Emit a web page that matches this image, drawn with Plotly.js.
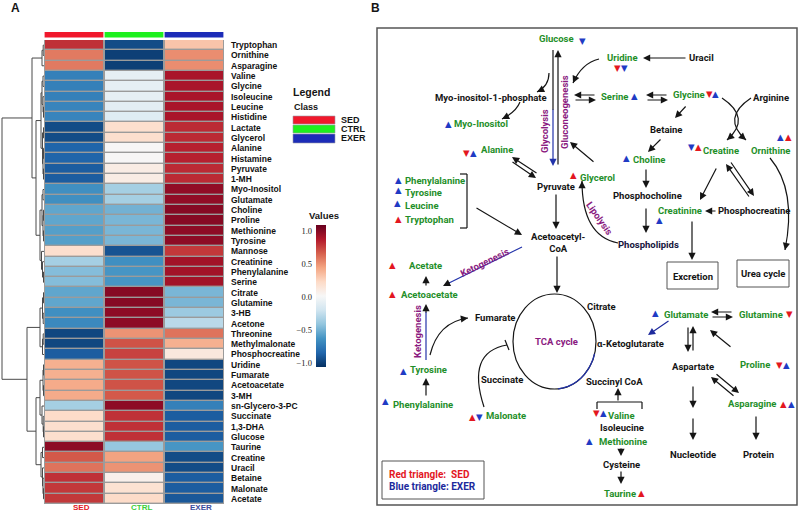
<!DOCTYPE html>
<html><head><meta charset="utf-8">
<script src="https://cdn.plot.ly/plotly-3.0.1.min.js"></script>
<style>html,body{margin:0;padding:0;background:#fff}</style>
</head><body><div id="chart" style="width:800px;height:514px"></div>
<script>
// ---------------- DATA ----------------
const metabolites = ['Tryptophan','Ornithine','Asparagine','Valine','Glycine','Isoleucine','Leucine','Histidine','Lactate','Glycerol','Alanine','Histamine','Pyruvate','1-MH','Myo-Inositol','Glutamate','Choline','Proline','Methionine','Tyrosine','Mannose','Creatinine','Phenylalanine','Serine','Citrate','Glutamine','3-HB','Acetone','Threonine','Methylmalonate','Phosphocreatine','Uridine','Fumarate','Acetoacetate','3-MH','sn-Glycero-3-PC','Succinate','1,3-DHA','Glucose','Taurine','Creatine','Uracil','Betaine','Malonate','Acetate'];
const groups = ['SED','CTRL','EXER'];
const sedValues  = [0.8,0.58,0.58,-0.72,-0.72,-0.72,-0.7,-0.7,-0.95,-0.95,-0.85,-0.85,-0.88,-0.88,-0.65,-0.65,-0.55,-0.55,-0.58,-0.58,0.2,-0.35,-0.45,-0.45,-0.55,-0.55,-0.65,-0.68,-0.97,-0.97,-0.88,0.4,0.4,0.42,0.42,-0.35,0.22,0.2,0.2,0.98,0.68,0.6,0.8,0.78,0.78];
const ctrlValues = [-0.95,-1.0,-1.0,-0.08,-0.08,-0.08,-0.1,-0.12,0.2,0.2,0.02,0.02,0.1,0.1,-0.35,-0.35,-0.5,-0.48,-0.48,-0.48,-0.92,-0.65,-0.62,-0.62,1.0,1.0,0.98,0.98,0.5,0.7,0.75,0.7,0.7,0.7,0.68,0.98,0.8,0.8,0.8,-0.4,0.45,0.5,0.07,0.18,0.22];
const exerValues = [0.32,0.52,0.52,0.9,0.9,0.9,0.9,0.9,0.82,0.82,0.85,0.85,0.82,0.82,0.97,0.97,1.0,1.0,0.98,0.98,0.78,0.92,0.92,0.92,-0.48,-0.48,-0.38,-0.28,0.6,0.4,0.13,-0.97,-0.97,-0.97,-0.97,-0.72,-0.88,-0.88,-0.88,-0.62,-0.95,-0.95,-0.88,-0.88,-0.9];
// dendrogram: [height, left, right]; leaves are row indices
const dendroA = [2, [0.8, 0, 1], 2];
const dendroB = [3, [2, [1, 3, 4], [1, 5, [0.5, 6, 7]]], [1.5, [0.5, 8, 9], [1, [0.5, 10, 11], [0.5, 12, 13]]]];
const dendroC = [2, [1, 14, 15], [1, [0.5, 16, 17], [0.5, 18, 19]]];
const dendroD = [2.5, 20, [1.5, 21, [0.5, 22, 23]]];
const dendroE = [4, [1.5, [0.5, 24, 25], [0.8, 26, 27]], [1.5, [0.8, 28, 29], 30]];
const dendroF = [4, [1, [0.5, 31, 32], [0.5, 33, 34]], [2, 35, [0.8, 36, [0.5, 37, 38]]]];
const dendroG = [3, [1.5, 39, 40], [1.5, 41, [1, 42, [0.5, 43, 44]]]];
const dendroTree = [42, [12, dendroA, [8, dendroB, [4, dendroC, dendroD]]], [17, dendroE, [8, dendroF, dendroG]]];
const colorbarTicks = [-1, -0.5, 0, 0.5, 1];
const zMin = -1.06, zMax = 1.09;

// ---------------- helpers ----------------
const W = 800, H = 514;
const X = p => p / W, Y = p => 1 - p / H;
const shapes = [], annotations = [];
const FONT = 'Roboto, "Liberation Sans", Arial, sans-serif';
const GREEN = '#1f8f2a', BLACK = '#151515', PURPLE = '#8a1a80', RED = '#e3171f', BLUE = '#1f3bc4';

function seg(x1,y1,x2,y2,color=BLACK,w=1.2){shapes.push({type:'line',xref:'paper',yref:'paper',x0:X(x1),y0:Y(y1),x1:X(x2),y1:Y(y2),line:{color:color,width:w}});}
function arr(x1,y1,x2,y2,color=BLACK){annotations.push({xref:'paper',yref:'paper',x:X(x2),y:Y(y2),ax:x1-x2,ay:y1-y2,axref:'pixel',ayref:'pixel',text:'',showarrow:true,arrowhead:2,arrowsize:1.2,arrowwidth:1.2,arrowcolor:color,standoff:0});}
function curve(x1,y1,cx,cy,x2,y2,color=BLACK,withHead=true){
  shapes.push({type:'path',xref:'paper',yref:'paper',path:`M ${X(x1)},${Y(y1)} Q ${X(cx)},${Y(cy)} ${X(x2)},${Y(y2)}`,line:{color:color,width:1.2}});
  if(withHead){const dx=x2-cx,dy=y2-cy,l=Math.hypot(dx,dy);arr(x2-dx/l*7,y2-dy/l*7,x2,y2,BLACK);}
}
function txt(s,x,y,color=BLACK,opt={}){annotations.push(Object.assign({xref:'paper',yref:'paper',x:X(x),y:Y(y),text:s,showarrow:false,xanchor:'center',yanchor:'middle',font:{family:FONT,size:9.5,color:color,weight:'bold'}},opt));}
function tri(x,y,up,color){annotations.push({xref:'paper',yref:'paper',x:X(x),y:Y(y),text:up?'▲':'▼',showarrow:false,xanchor:'center',yanchor:'middle',font:{family:'DejaVu Sans',size:8.5,color:color}});}
function rect(x0,y0,x1,y1,color='#555',w=1,fill='rgba(0,0,0,0)'){shapes.push({type:'rect',xref:'paper',yref:'paper',x0:X(x0),y0:Y(y1),x1:X(x1),y1:Y(y0),line:{color:color,width:w},fillcolor:fill});}

// ---------------- heatmap ----------------
const rows = metabolites.map((_,i)=>i);
const z = metabolites.map((_,i)=>[sedValues[i], ctrlValues[i], exerValues[i]]);
const rdbu = [[0,'#053061'],[0.1,'#2166ac'],[0.2,'#4393c3'],[0.3,'#92c5de'],[0.4,'#d1e5f0'],[0.5,'#f7f7f7'],[0.6,'#fddbc7'],[0.7,'#f4a582'],[0.8,'#d6604d'],[0.9,'#b2182b'],[1,'#67001f']];

const heat = {type:'heatmap',x:[0,1,2],y:rows,z:z,zmin:zMin,zmax:zMax,colorscale:rdbu,xgap:2,ygap:1.4,hoverinfo:'skip',xaxis:'x',yaxis:'y',
  colorbar:{x:X(316),xanchor:'left',y:Y(296),yanchor:'middle',len:142,lenmode:'pixels',thickness:10,xpad:0,ypad:0,outlinewidth:0,showticklabels:false,ticks:''}};

// dendrogram lines from tree
const dx=[], dy=[];
function walk(node){
  if(typeof node==='number') return {y:node,h:0};
  const L=walk(node[1]), R=walk(node[2]), h=node[0];
  dx.push(L.h,h,h,R.h,null); dy.push(L.y,L.y,R.y,R.y,null);
  return {y:(L.y+R.y)/2,h:h};
}
walk(dendroTree);
const dendro = {type:'scatter',mode:'lines',x:dx,y:dy,xaxis:'x2',yaxis:'y2',line:{color:'#4a4a4a',width:1},hoverinfo:'skip',showlegend:false};
const dummy = {type:'scatter',x:[],y:[],xaxis:'x3',yaxis:'y3',showlegend:false};

// grey grid behind heatmap
shapes.push({type:'rect',xref:'x',yref:'y',x0:-0.52,x1:2.52,y0:-0.6,y1:44.6,fillcolor:'#9b9b9b',line:{width:0},layer:'below'});
// class strip
const classColors = ['#f0182c','#1ef01e','#1c2cb8'];
groups.forEach((g,i)=>{shapes.push({type:'rect',xref:'x',yref:'paper',x0:i-0.49,x1:i+0.49,y0:Y(37.5),y1:Y(32),fillcolor:classColors[i],line:{width:0}});});
const labelColors = ['#e3171f','#3ccf3c','#3a4c9c'];
groups.forEach((g,i)=>{annotations.push({xref:'x',yref:'paper',x:i,y:Y(507.5),yanchor:'middle',xshift:7,text:g,showarrow:false,borderpad:0,font:{family:'"Liberation Sans", Arial',size:8,color:labelColors[i],weight:'bold'}});});
// panel label A
txt('A',15,8,BLACK,{font:{family:'"Liberation Sans", Arial',size:12,color:BLACK,weight:'bold'}});
// legend
txt('Legend',311,92,BLACK,{font:{family:'"Liberation Sans", Arial',size:10.5,color:BLACK,weight:'bold'}});
txt('Class',306,107,BLACK,{font:{family:'"Liberation Sans", Arial',size:9,color:BLACK,weight:'bold'}});
[[116,124],[125,133],[134,143]].forEach((r,i)=>{rect(293,r[0],335,r[1],'#9a9aa8',0.6,classColors[i]);
  txt(groups[i],339,(r[0]+r[1])/2,BLACK,{xanchor:'left',font:{family:'"Liberation Sans", Arial',size:9,color:BLACK,weight:'bold'}});});
txt('Values',324,215,BLACK,{font:{family:'"Liberation Sans", Arial',size:9.5,color:BLACK,weight:'bold'}});

// ---------------- panel B ----------------
txt('B',375,8,BLACK,{font:{family:'"Liberation Sans", Arial',size:12,color:BLACK,weight:'bold'}});
rect(377,28,797,505,'#555',1.5);

// texts
const G=GREEN,K=BLACK,P=PURPLE;
txt('Glucose',556,39,G); tri(582,41,false,BLUE);
txt('Uridine',622,57,G); tri(617,68,false,RED); tri(624,68,false,BLUE);
txt('Uracil',701,57,K);
txt('Myo-inositol-1-phosphate',491,97,K);
txt('Serine',614,96,G); tri(634,96,true,BLUE);
txt('Glycine',689,94,G); tri(709,94,false,RED); tri(715,94,true,BLUE);
txt('Arginine',771,97,K);
txt('Myo-Inositol',481,123,G); tri(448,124,true,BLUE);
txt('Betaine',666,129,K);
txt('Alanine',497,149,G); tri(466,153,false,RED); tri(473,153,true,BLUE);
txt('Creatine',721,150,G); tri(691,147,false,BLUE); tri(698,147,true,RED);
txt('Ornithine',770,150,G); tri(780,137,true,BLUE); tri(788,137,true,RED);
txt('Choline',649,159,G); tri(626,158,true,BLUE);
txt('Glycerol',597,177,G); tri(573,175,true,RED);
txt('Phenylalanine',403,180,G,{xanchor:'left'}); tri(398,180,true,BLUE);
txt('Tyrosine',403,192,G,{xanchor:'left'}); tri(398,190,true,BLUE);
txt('Leucine',403,205,G,{xanchor:'left'}); tri(397,203,true,BLUE);
txt('Tryptophan',403,219,G,{xanchor:'left'}); tri(398,219,true,RED);
txt('Pyruvate',556,186,K);
txt('Phosphocholine',647,195,K);
txt('Creatinine',680,210,G); tri(659,220,true,BLUE);
txt('Phosphocreatine',754,210,K);
txt('Acetoacetyl-<br>CoA',558,242,K);
txt('Phospholipids',648,244,'#15153d');
txt('Acetate',425,265,G); tri(392,265,true,RED);
txt('Acetoacetate',429,294,G); tri(392,294,true,RED);
txt('Excretion',693,276,K); rect(667,262,718,289,'#555',1);
txt('Urea cycle',763,273,K); rect(737,260,789,287,'#555',1);
txt('Citrate',601,306,K);
txt('Glutamate',686,314,G); tri(655,313,true,BLUE);
txt('Glutamine',761,314,G); tri(789,314,false,RED);
txt('Fumarate',495,317,K);
txt('TCA cycle',556,341,P);
txt('α-Ketoglutarate',630,343,K);
txt('Proline',755,364,G); tri(779,365,false,RED); tri(786,365,true,BLUE);
txt('Aspartate',693,366,K);
txt('Tyrosine',428,369,G); tri(403,371,true,BLUE);
txt('Succinate',502,379,K);
txt('Succinyl CoA',614,381,K);
txt('Asparagine',752,403,G); tri(783,404,true,RED); tri(791,404,true,BLUE);
txt('Phenylalanine',423,404,G); tri(385,401,true,BLUE);
txt('Malonate',506,415,G); tri(472,417,true,RED); tri(479,417,false,BLUE);
txt('Valine',621,415,G); tri(596,413,false,RED); tri(603,413,true,BLUE);
txt('Isoleucine',622,427,K);
txt('Methionine',623,441,G); tri(589,441,true,BLUE);
txt('Nucleotide',693,454,K);
txt('Protein',758,454,K);
txt('Cysteine',621,464,K);
txt('Taurine',620,493,G); tri(641,493,true,RED);
// rotated pathway labels
txt('Glycolysis',544,131,P,{textangle:-90});
txt('Gluconeogenesis',564,112,P,{textangle:-90});
txt('Lipolysis',600,218,P,{textangle:55});
txt('Ketogenesis',484,262,P,{textangle:-26});
txt('Ketogenesis',417,332,P,{textangle:-90});
// legend box
rect(382,461,484,499,'#555',1);
txt('Red triangle:  SED',387,474,RED,{xanchor:'left',font:{family:FONT,size:10,color:RED,weight:'bold'}});
txt('Blue triangle: EXER',387,486,'#1c2a9c',{xanchor:'left',font:{family:FONT,size:10,color:'#1c2a9c',weight:'bold'}});

// arrows & lines
seg(553,50,553,110,BLACK); arr(553,108,553,166,'#2233aa');
arr(558,166,558,50);
curve(599,59,582,63,573,83);
curve(549,73,549,86,537,92);
curve(520,102,516,112,502,119);
arr(511,161,536,178); arr(538,174,512,157);
arr(556,193,556,229);
seg(460,174,467,174); seg(467,174,467,228); seg(460,228,467,228);
arr(475,207,522,235);
arr(557,255,557,293);
seg(522,247,449,283,'#2233aa'); arr(451,282,443,286);
arr(426,287,426,276);
seg(426,360,426,312,'#2233aa'); arr(426,314,426,304);
curve(430,355,438,322,468,318);
arr(426,397,426,378);
curve(484,407,466,352,507,345,BLACK,false); seg(505,340,509,350);
arr(687,58,643,58);
arr(596,95,574,95); arr(574,100,596,100);
arr(668,95,646,95); arr(646,100,668,100);
arr(687,105,675,118);
arr(662,138,648,152);
arr(646,168,646,188);
arr(646,207,646,233);
curve(618,243,582,236,582,181,BLACK);
arr(595,163,570,142);
curve(722,98,752,118,727,140);
curve(751,98,721,118,746,140);
arr(717,167,700,200);
arr(730,161,754,196); arr(750,198,726,164);
arr(717,211,705,211);
arr(692,220,692,260);
curve(770,158,797,190,785,250);
arr(670,320,648,335,'#1e2a9c');
arr(733,312,711,312); arr(711,317,733,317);
arr(688,326,688,352); arr(693,352,693,326);
arr(732,348,710,330);
arr(715,373,739,393); arr(735,397,711,377);
arr(693,385,693,408); arr(693,417,693,440);
arr(756,415,756,440);
seg(597,402,642,402); seg(597,402,597,409); seg(642,402,642,409); arr(618,402,618,388);
arr(621,447,621,456);
arr(621,470,621,484);
// TCA cycle ellipse and blue arc
shapes.push({type:'circle',xref:'paper',yref:'paper',x0:X(513),x1:X(596),y0:Y(389),y1:Y(294),line:{color:BLACK,width:1.2}});
(function(){let p='';for(let a=15;a<=88;a+=7){const t=a*Math.PI/180;const px=554.5+41.5*Math.cos(t),py=341.5+47.5*Math.sin(t);p+=(p?' L ':'M ')+X(px)+','+Y(py);}shapes.push({type:'path',xref:'paper',yref:'paper',path:p,line:{color:'#2233aa',width:1.3}});})();

// ---------------- layout ----------------
const yDom = [Y(504), Y(40)];
const layout = {
  width:W,height:H,margin:{l:0,r:0,t:0,b:0},paper_bgcolor:'#fff',plot_bgcolor:'rgba(0,0,0,0)',showlegend:false,
  xaxis:{domain:[X(44),X(224)],range:[-0.5,2.5],showticklabels:false,showgrid:false,zeroline:false,ticks:'',anchor:'y'},
  yaxis:{domain:yDom,range:[44.5,-0.5],tickvals:rows,ticktext:metabolites,side:'right',anchor:'x',ticks:'',showgrid:false,zeroline:false,ticklabelstandoff:6,
    tickfont:{family:'"Liberation Sans", Arial',size:8.5,color:'#111',weight:'bold'}},
  xaxis2:{domain:[0,X(44)],range:[44,0],visible:false,anchor:'y2'},
  yaxis2:{domain:yDom,range:[44.5,-0.5],visible:false,anchor:'x2'},
  xaxis3:{domain:[X(316),X(326)],range:[0,1],visible:false,anchor:'y3'},
  yaxis3:{domain:[Y(367),Y(225)],range:[zMin,zMax],anchor:'x3',side:'left',tickvals:colorbarTicks,tickformat:'.1f',ticks:'',showgrid:false,zeroline:false,showline:false,ticklabelstandoff:3,
    tickfont:{family:'"Liberation Serif", serif',size:8.5,color:'#222'}},
  shapes:shapes,annotations:annotations
};
Plotly.newPlot('chart',[heat,dendro,dummy],layout,{displayModeBar:false,staticPlot:true});
</script></body></html>
